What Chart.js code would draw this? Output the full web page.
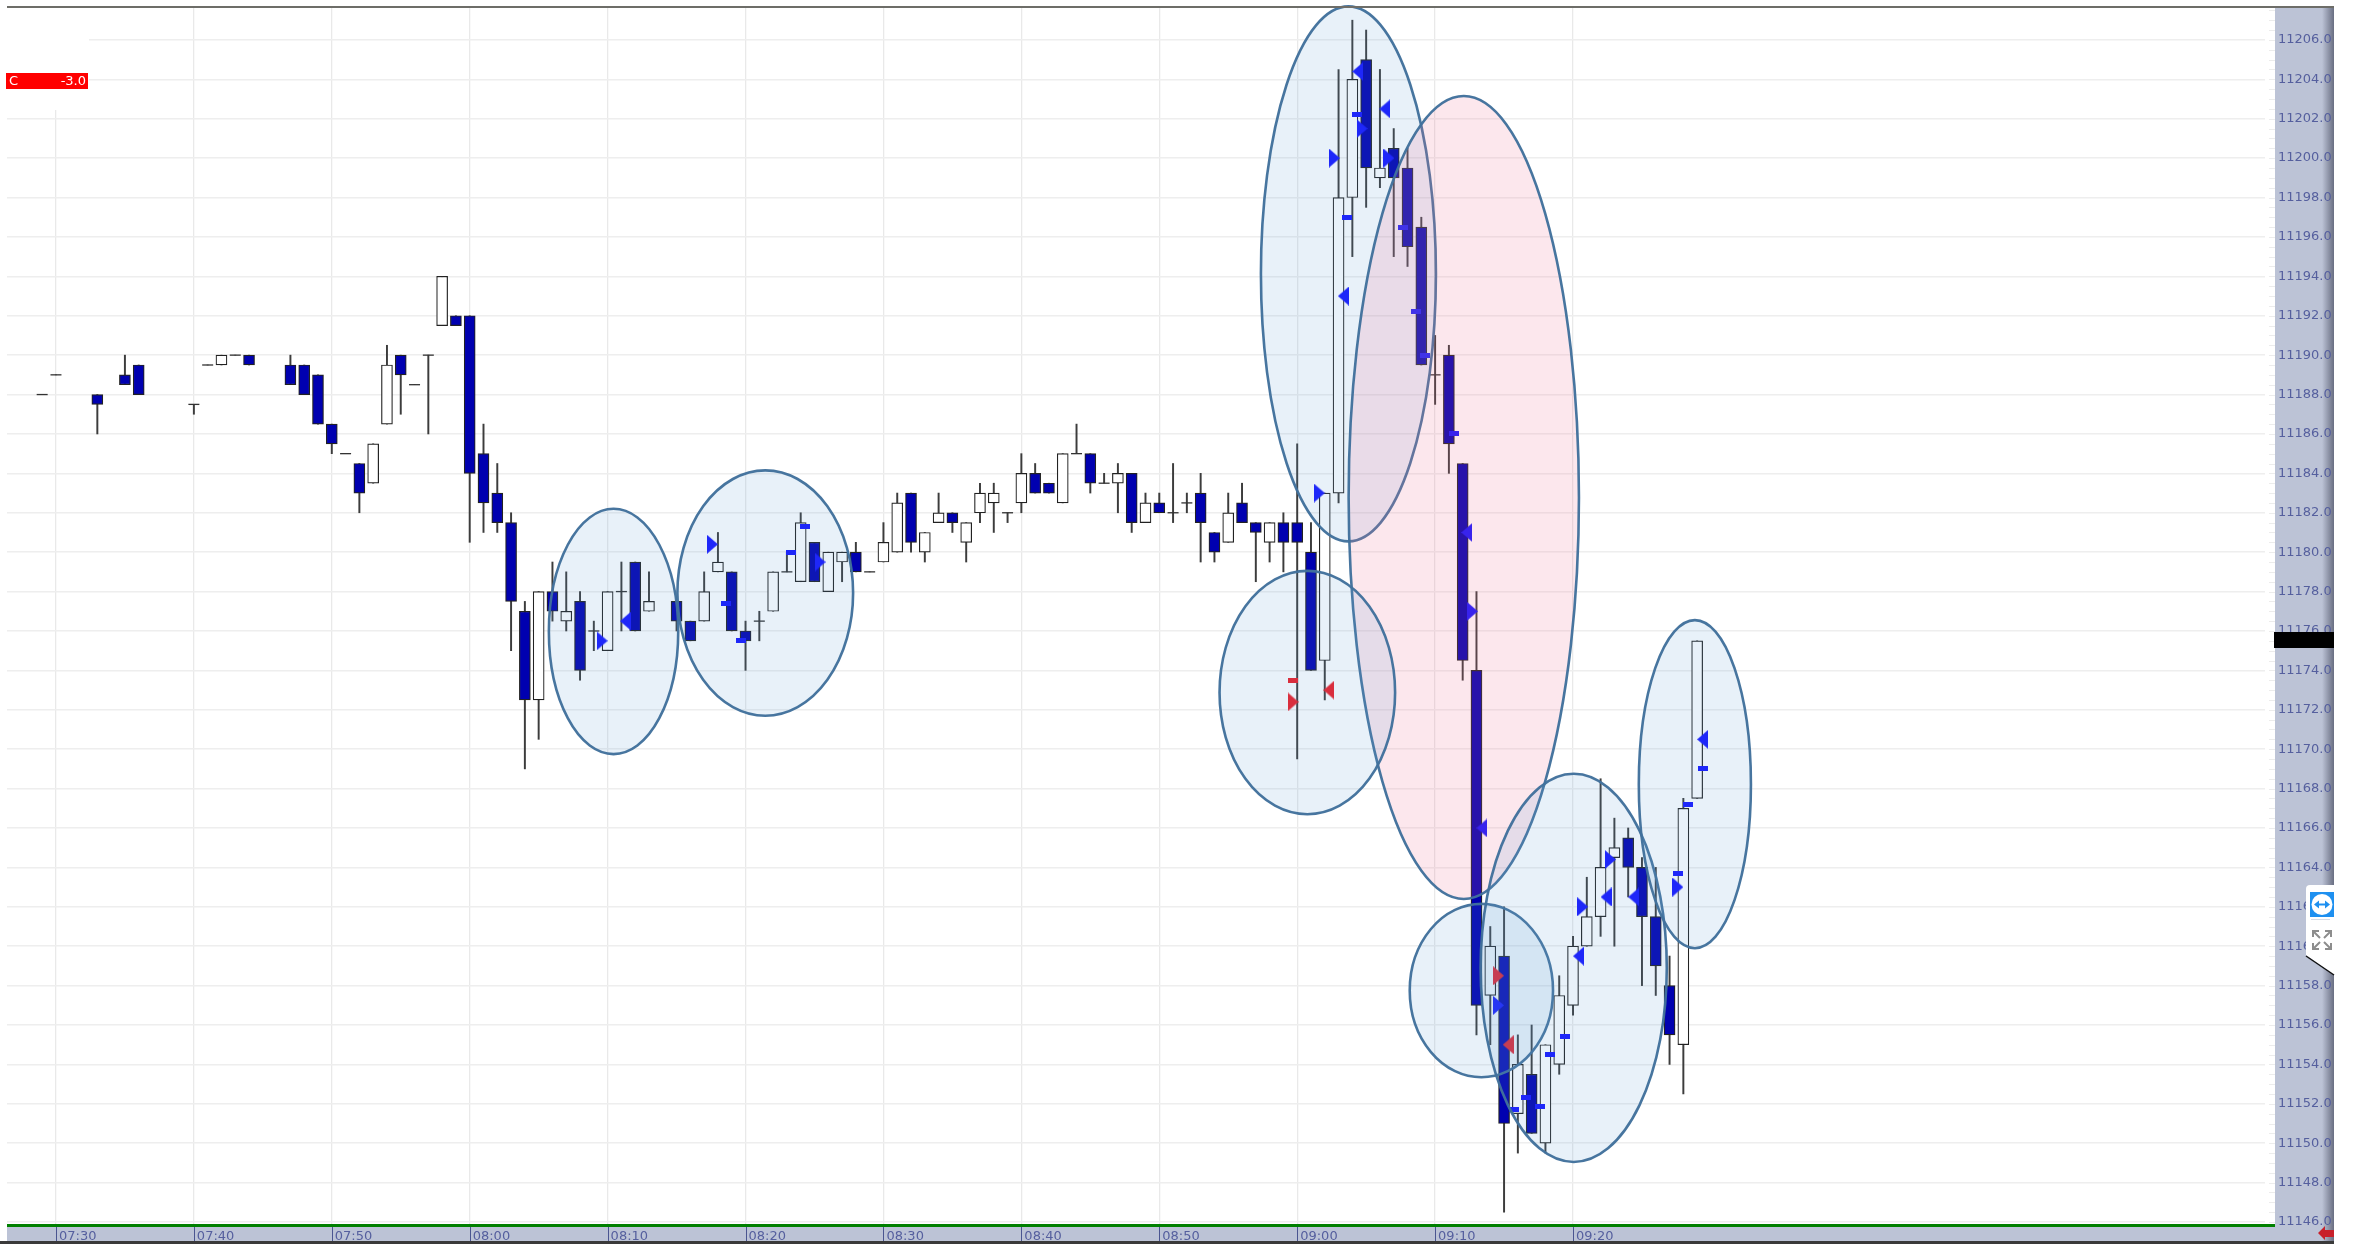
<!DOCTYPE html>
<html>
<head>
<meta charset="utf-8">
<title>Chart</title>
<script src="https://cdn.jsdelivr.net/npm/chart.js@4"></script>
<style>
html, body { margin: 0; padding: 0; background: #fff; overflow: hidden; }
canvas { display: block; }
</style>
</head>
<body>
<canvas id="chart" width="2361" height="1244"></canvas>
<script>
// minutes after 07:30, one entry per candle
const candleMinute = [-1,0,3,5,6,10,11,12,13,14,17,18,19,20,21,22,23,24,25,26,27,28,29,30,31,32,33,34,35,36,37,38,39,40,41,42,43,45,46,47,48,49,50,51,52,53,54,55,56,57,58,59,60,61,62,63,64,65,66,67,68,69,70,71,72,73,74,75,76,77,78,79,80,81,82,83,84,85,86,87,88,89,90,91,92,93,94,95,96,97,98,99,100,101,102,103,104,105,106,107,108,109,110,111,112,113,114,115,116,117,118,119];
const candleOpen = [11188,11189,11188,11189,11189.5,11187.5,11189.5,11189.5,11190,11190,11189.5,11189.5,11189,11186.5,11185,11184.5,11183.5,11186.5,11190,11188.5,11190,11191.5,11192,11192,11185,11183,11181.5,11177,11172.5,11178,11176.5,11177.5,11176,11175,11178,11179.5,11177,11177.5,11176.5,11176.5,11179,11179,11176,11176.5,11177,11179,11178.5,11180.5,11178,11179.5,11180,11179,11179.5,11180,11183,11180,11181.5,11182,11180.5,11182,11182.5,11182,11182.5,11184,11183.5,11182.5,11185,11185,11183.5,11183.5,11184,11181.5,11182.5,11182,11182.5,11183,11181,11180.5,11182.5,11181.5,11180.5,11181.5,11181.5,11180,11174.5,11183,11198,11205,11199,11200.5,11199.5,11196.5,11189,11190,11184.5,11174,11157.5,11159.5,11151.5,11153.5,11150,11154,11157,11160,11161.5,11164.5,11165.5,11164,11161.5,11158,11155,11167.5];
const candleHigh = [11188,11189,11188,11190,11189.5,11187.5,11189.5,11190,11190,11190,11190,11189.5,11189,11186.5,11185,11184.5,11185.5,11190.5,11190,11188.5,11190,11194,11192,11192,11186.5,11184.5,11182,11177.5,11178,11179.5,11179,11178,11176.5,11178,11179.5,11179.5,11179,11177.5,11176.5,11179,11181,11179,11176.5,11177,11179,11180,11182,11180.5,11180,11180,11180.5,11179,11181.5,11183,11183,11181,11183,11182,11181.5,11183.5,11183.5,11182,11185,11184.5,11183.5,11185,11186.5,11185,11184,11184.5,11184,11183,11183,11184.5,11183,11184,11181,11183,11183.5,11181.5,11181.5,11182,11185.5,11181.5,11183,11204.5,11207,11206.5,11204.5,11201.5,11200.5,11197,11191,11190.5,11184.5,11178,11161,11162,11155.5,11156,11155,11158.5,11160.5,11163.5,11168.5,11166.5,11166,11164.5,11164,11159.5,11167.5,11175.5];
const candleLow = [11188,11189,11186,11188.5,11188,11187,11189.5,11189.5,11190,11189.5,11188.5,11188,11186.5,11185,11185,11182,11183.5,11186.5,11187,11188.5,11186,11191.5,11191.5,11180.5,11181,11181,11175,11169,11170.5,11176.5,11176,11173.5,11175,11175,11176,11176,11177,11176,11175.5,11176.5,11179,11176,11174,11175.5,11177,11179,11178.5,11178.5,11178,11178.5,11179,11179,11179.5,11180,11180,11179.5,11181.5,11181,11179.5,11181.5,11181,11181.5,11182,11183,11183,11182.5,11185,11183,11183.5,11182,11181,11181.5,11182,11181.5,11182,11179.5,11179.5,11180.5,11181.5,11178.5,11179.5,11179,11169.5,11174,11172.5,11182.5,11195,11197.5,11198.5,11195,11194.5,11189.5,11187.5,11184,11173.5,11155.5,11155,11146.5,11149.5,11150.5,11149.5,11153.5,11156.5,11160,11160.5,11160,11162.5,11158,11157.5,11154,11152.5,11167.5];
const candleClose = [11188,11189,11187.5,11188.5,11188,11187.5,11189.5,11190,11190,11189.5,11188.5,11188,11186.5,11185.5,11185,11183,11185.5,11189.5,11189,11188.5,11190,11194,11191.5,11184,11182.5,11181.5,11177.5,11172.5,11178,11177,11177,11174,11176,11178,11178,11176,11177.5,11176.5,11175.5,11178,11179.5,11176,11175.5,11176.5,11179,11179,11181.5,11178.5,11180,11180,11179,11179,11180.5,11182.5,11180.5,11181,11182,11181.5,11181.5,11183,11183,11182,11184,11183,11183,11185,11185,11183.5,11183.5,11184,11181.5,11182.5,11182,11182,11182.5,11181.5,11180,11182,11181.5,11181,11181.5,11180.5,11180.5,11174,11183,11198,11204,11199.5,11199.5,11199,11195.5,11189.5,11189,11185.5,11174.5,11157,11160,11151,11154,11150.5,11155,11157.5,11160,11161.5,11164,11165,11164,11161.5,11159,11155.5,11167,11175.5];

const timeLabels = ['07:30','07:40','07:50','08:00','08:10','08:20','08:30','08:40','08:50','09:00','09:10','09:20'];

// signal markers, [minute, price]
const blueRightArrows = [[39.6,11175.5],[47.6,11180.4],[55.4,11179.5],[91.6,11183],[92.7,11200],[94.7,11201.5],[96.65,11200],[102.7,11177],[104.6,11157],[110.7,11162],[112.7,11164.4],[117.6,11163]];
const blueLeftArrows = [[41.3,11176.5],[93.35,11193],[94.4,11204.4],[96.35,11202.5],[102.3,11181],[103.4,11166],[110.4,11159.5],[112.4,11162.5],[114.4,11162.5],[119.4,11170.5]];
const blueDashes = [[48.6,11177.4],[49.7,11175.5],[53.3,11180],[54.3,11181.3],[93.6,11197],[94.35,11202.2],[97.7,11196.5],[98.6,11192.2],[99.3,11190],[101.4,11186],[105.75,11151.7],[106.6,11152.3],[107.6,11151.85],[108.3,11154.5],[109.4,11155.4],[117.6,11163.7],[118.35,11167.2],[119.4,11169]];
const redRightArrows = [[89.7,11172.4],[104.6,11158.5]];
const redLeftArrows = [[92.3,11173],[105.3,11155]];
const redDashes = [[89.7,11173.5]];

// hand drawn ellipses: first minute, last minute, top price, bottom price
const blueEllipses = [
    [35.74,45.12,11182.2,11169.75],
    [45.06,57.8,11184.15,11171.7],
    [87.37,100.06,11207.7,11180.55]
];
const pinkEllipses = [[93.73,110.43,11203.15,11162.4]];
const upperBlueEllipses = [
    [84.37,97.1,11179.05,11166.7],
    [98.16,108.55,11162.15,11153.35],
    [103.3,116.8,11168.75,11149.05],
    [114.77,122.9,11176.55,11159.9]
];

const STRIP = '#bcc3d6';
const AXIS_TEXT = '#555f9e';

function arrowImage(color, dir) {
    const c = document.createElement('canvas');
    c.width = 11;
    c.height = 19;
    const g = c.getContext('2d');
    g.fillStyle = color;
    g.beginPath();
    if (dir > 0) {
        g.moveTo(0, 0); g.lineTo(11, 9.5); g.lineTo(0, 19);
    } else {
        g.moveTo(11, 0); g.lineTo(0, 9.5); g.lineTo(11, 19);
    }
    g.closePath();
    g.fill();
    return c;
}

function dashImage(color) {
    const c = document.createElement('canvas');
    c.width = 10;
    c.height = 5;
    const g = c.getContext('2d');
    g.fillStyle = color;
    g.fillRect(0, 0, 10, 5);
    return c;
}

function markerDataset(points, image) {
    return {
        type: 'scatter',
        data: points.map(p => ({x: p[0], y: p[1]})),
        pointStyle: image,
        pointRadius: 6,
        showLine: false,
        order: 1
    };
}

function ellipse(ctx, chart, e, fill) {
    const x = chart.scales.x, y = chart.scales.y;
    const left = x.getPixelForValue(e[0]), right = x.getPixelForValue(e[1]);
    const top = y.getPixelForValue(e[2]), bottom = y.getPixelForValue(e[3]);
    ctx.beginPath();
    ctx.ellipse((left + right) / 2, (top + bottom) / 2, (right - left) / 2, (bottom - top) / 2, 0, 0, Math.PI * 2);
    ctx.fillStyle = fill;
    ctx.fill();
    ctx.lineWidth = 2.6;
    ctx.strokeStyle = 'rgba(65,113,156,0.97)';
    ctx.stroke();
}

const chrome = {
    id: 'chrome',
    beforeDraw(chart) {
        const ctx = chart.ctx, a = chart.chartArea;
        ctx.save();
        ctx.fillStyle = '#fff';
        ctx.fillRect(0, 0, 2361, 1244);
        // price strip and time strip
        ctx.fillStyle = STRIP;
        ctx.fillRect(a.right, a.top, 59, 1241 - a.top);
        ctx.fillRect(a.left, a.bottom + 2, a.right - a.left, 14);
        const grad = ctx.createLinearGradient(2322, 0, 2334, 0);
        grad.addColorStop(0, 'rgba(90,95,115,0)');
        grad.addColorStop(1, 'rgba(90,95,115,0.85)');
        ctx.fillStyle = grad;
        ctx.fillRect(2322, a.top, 12, 1241 - a.top);
        ctx.restore();
    },
    beforeDatasetsDraw(chart) {
        const ctx = chart.ctx, a = chart.chartArea, y = chart.scales.y;
        ctx.save();
        // the grid stops short of the strip and the corner is left empty
        ctx.fillStyle = '#fff';
        ctx.fillRect(a.right - 10, a.top, 10, a.bottom - a.top);
        ctx.fillRect(a.left, a.top, 82, 103);
        ctx.strokeStyle = '#ececec';
        ctx.lineWidth = 1;
        for (let p = Math.ceil(y.min * 2) / 2; p <= y.max; p += 0.5) {
            const py = Math.round(y.getPixelForValue(p)) + 0.5;
            ctx.beginPath();
            ctx.moveTo(a.right - 6, py);
            ctx.lineTo(a.right, py);
            ctx.stroke();
        }
        ctx.restore();
    },
    afterDraw(chart) {
        const ctx = chart.ctx, a = chart.chartArea, x = chart.scales.x;
        ctx.save();
        // ellipses sit over the candles
        ctx.beginPath();
        ctx.rect(a.left, 3, a.right - a.left, a.bottom - 3);
        ctx.clip();
        blueEllipses.forEach(e => ellipse(ctx, chart, e, 'rgba(91,155,213,0.14)'));
        pinkEllipses.forEach(e => ellipse(ctx, chart, e, 'rgba(240,110,150,0.17)'));
        upperBlueEllipses.forEach(e => ellipse(ctx, chart, e, 'rgba(91,155,213,0.14)'));
        ctx.restore();

        ctx.save();
        // top rule
        ctx.fillStyle = '#6d6d68';
        ctx.fillRect(a.left, a.top - 1, 2334 - a.left, 2);
        // green base line, time ticks
        ctx.fillStyle = '#008000';
        ctx.fillRect(a.left, a.bottom - 1, a.right - a.left, 3);
        ctx.fillStyle = '#4a5590';
        timeLabels.forEach((t, i) => {
            ctx.fillRect(Math.round(x.getPixelForValue(i * 10)), a.bottom + 2, 1, 14);
        });
        // label cut off at the foot of the price strip
        ctx.fillStyle = STRIP;
        ctx.fillRect(a.right, a.bottom, 47, 16);
        const grad = ctx.createLinearGradient(2322, 0, 2334, 0);
        grad.addColorStop(0, STRIP);
        grad.addColorStop(1, '#6a6d80');
        ctx.fillStyle = grad;
        ctx.fillRect(2322, a.bottom, 12, 16);
        // return arrow
        ctx.fillStyle = '#c8202a';
        ctx.beginPath();
        ctx.moveTo(2318, 1233);
        ctx.lineTo(2325, 1226);
        ctx.lineTo(2325, 1230);
        ctx.lineTo(2334, 1230);
        ctx.lineTo(2334, 1237);
        ctx.lineTo(2325, 1237);
        ctx.lineTo(2325, 1240);
        ctx.closePath();
        ctx.fill();
        // bottom edge
        ctx.fillStyle = '#3a3a3a';
        ctx.fillRect(0, 1241, 2334, 3);
        // current price box
        ctx.fillStyle = '#000';
        ctx.fillRect(a.right - 1, 632, 60, 16);
        // remote desktop widget in front of the strip
        ctx.fillStyle = '#fff';
        ctx.beginPath();
        ctx.moveTo(2334, 885);
        ctx.lineTo(2310, 885);
        ctx.quadraticCurveTo(2306, 885, 2306, 889);
        ctx.lineTo(2306, 955);
        ctx.lineTo(2334, 975);
        ctx.closePath();
        ctx.fill();
        ctx.strokeStyle = '#111';
        ctx.lineWidth = 1.5;
        ctx.beginPath();
        ctx.moveTo(2306, 956);
        ctx.lineTo(2334, 975);
        ctx.stroke();
        ctx.fillStyle = '#1e90f0';
        ctx.fillRect(2310, 892, 24, 25);
        ctx.fillStyle = '#fff';
        ctx.beginPath();
        ctx.arc(2322, 904.5, 10.5, 0, Math.PI * 2);
        ctx.fill();
        ctx.strokeStyle = '#1e90f0';
        ctx.fillStyle = '#1e90f0';
        ctx.lineWidth = 2;
        ctx.beginPath();
        ctx.moveTo(2317, 904.5);
        ctx.lineTo(2327, 904.5);
        ctx.stroke();
        [[2314, 2319], [2330, 2325]].forEach(s => {
            ctx.beginPath();
            ctx.moveTo(s[0], 904.5);
            ctx.lineTo(s[1], 900.5);
            ctx.lineTo(s[1], 908.5);
            ctx.closePath();
            ctx.fill();
        });
        ctx.fillStyle = '#d5dbe6';
        ctx.fillRect(2311, 919, 19, 1);
        // expand arrows
        ctx.strokeStyle = '#8d8d8d';
        ctx.lineWidth = 2;
        [[2313, 931, 1, 1], [2331, 931, -1, 1], [2313, 949, 1, -1], [2331, 949, -1, -1]].forEach(c => {
            ctx.beginPath();
            ctx.moveTo(c[0] + c[2] * 6, c[1]);
            ctx.lineTo(c[0], c[1]);
            ctx.lineTo(c[0], c[1] + c[3] * 6);
            ctx.moveTo(c[0], c[1]);
            ctx.lineTo(c[0] + c[2] * 7, c[1] + c[3] * 7);
            ctx.stroke();
        });
        // close label
        ctx.fillStyle = '#ff0000';
        ctx.fillRect(6, 73, 82, 16);
        ctx.fillStyle = '#fff';
        ctx.font = '13px "DejaVu Sans"';
        ctx.textBaseline = 'middle';
        ctx.textAlign = 'left';
        ctx.fillText('C', 9, 81.5);
        ctx.textAlign = 'right';
        ctx.fillText('-3.0', 86, 81.5);
        ctx.restore();
    }
};

const wickData = candleMinute.map((m, i) => ({x: m, y: [candleLow[i], candleHigh[i]]}));
const bodyIdx = candleMinute.map((m, i) => i).filter(i => candleOpen[i] !== candleClose[i]);
const bodyData = bodyIdx.map(i => ({x: candleMinute[i], y: [candleOpen[i], candleClose[i]]}));
const bodyColors = bodyIdx.map(i => candleClose[i] > candleOpen[i] ? '#ffffff' : '#0000b0');
const dojiData = candleMinute.map((m, i) => i).filter(i => candleOpen[i] === candleClose[i])
    .map(i => ({x: candleMinute[i], y: candleOpen[i]}));

new Chart(document.getElementById('chart').getContext('2d'), {
    type: 'bar',
    data: {
        datasets: [
            {data: wickData, backgroundColor: '#3c3c3c', barThickness: 1.3, grouped: false, order: 4},
            {data: bodyData, backgroundColor: bodyColors, borderColor: '#222', borderWidth: 1.2, borderSkipped: false, barThickness: 11, grouped: false, order: 3},
            {type: 'scatter', data: dojiData, pointStyle: 'line', pointRadius: 5.5, borderColor: '#333', borderWidth: 1.3, showLine: false, order: 2},
            markerDataset(blueRightArrows, arrowImage('#1414ff', 1)),
            markerDataset(blueLeftArrows, arrowImage('#1414ff', -1)),
            markerDataset(blueDashes, dashImage('#1414ff')),
            markerDataset(redRightArrows, arrowImage('#ee1c25', 1)),
            markerDataset(redLeftArrows, arrowImage('#ee1c25', -1)),
            markerDataset(redDashes, dashImage('#ee1c25'))
        ]
    },
    options: {
        responsive: false,
        animation: false,
        layout: {padding: {left: 6, right: 27, top: 5, bottom: 0}},
        plugins: {legend: {display: false}, tooltip: {enabled: false}, title: {display: false}},
        scales: {
            x: {
                type: 'linear',
                offset: false,
                min: -3.55,
                max: 160.9,
                afterBuildTicks: scale => { scale.ticks = timeLabels.map((t, i) => ({value: i * 10})); },
                afterFit: scale => { scale.height = 19; scale.paddingLeft = 0; scale.paddingRight = 0; },
                grid: {offset: false, color: '#e9e9e9', lineWidth: 1.3, drawTicks: false},
                border: {display: false},
                ticks: {
                    autoSkip: false,
                    maxRotation: 0,
                    align: 'start',
                    labelOffset: 3,
                    padding: 4,
                    color: AXIS_TEXT,
                    font: {family: '"DejaVu Sans"', size: 13},
                    callback: v => timeLabels[v / 10]
                }
            },
            y: {
                position: 'right',
                min: 11145.85,
                max: 11207.67,
                afterFit: scale => { scale.width = 59; scale.paddingTop = 0; scale.paddingBottom = 0; },
                grid: {color: '#eeeeee', lineWidth: 1.5, drawTicks: false},
                border: {display: false},
                ticks: {
                    stepSize: 2,
                    includeBounds: false,
                    padding: 3,
                    color: AXIS_TEXT,
                    font: {family: '"DejaVu Sans"', size: 13},
                    callback: v => v.toFixed(1)
                }
            }
        }
    },
    plugins: [chrome]
});
</script>
</body>
</html>
